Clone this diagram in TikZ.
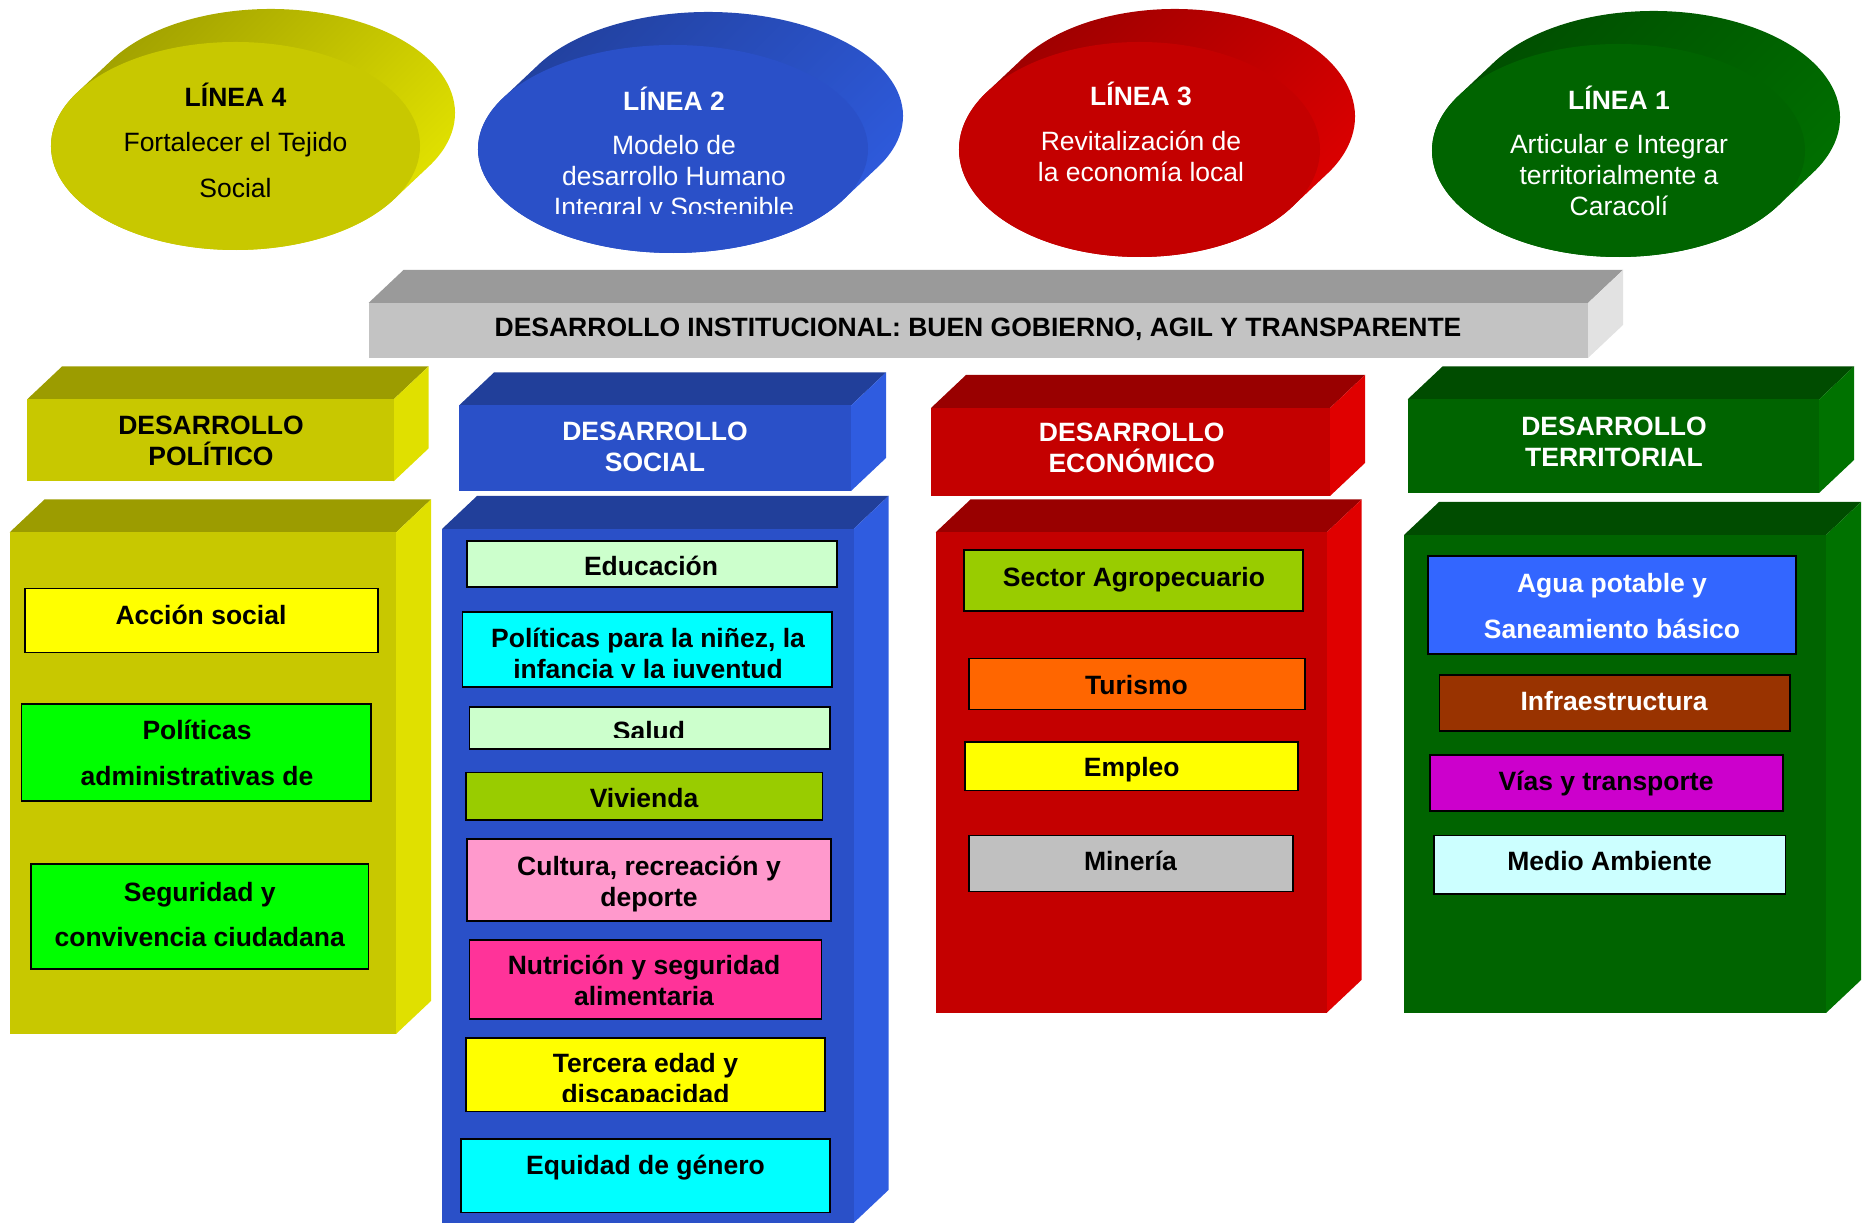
\documentclass[tikz,border=0pt]{standalone}
\usepackage{fontspec}
\setmainfont{Liberation Sans}
\usetikzlibrary{calc}

\definecolor{olfront}{HTML}{C8C800}
\definecolor{oltop}{HTML}{9C9C00}
\definecolor{olside}{HTML}{E0E000}
\definecolor{olhi}{HTML}{E6E600}
\definecolor{blfront}{HTML}{2A50C8}
\definecolor{bltop}{HTML}{213F9A}
\definecolor{blside}{HTML}{2F5CE0}
\definecolor{rdfront}{HTML}{C40000}
\definecolor{rdtop}{HTML}{990000}
\definecolor{rdside}{HTML}{E00000}
\definecolor{gnfront}{HTML}{006400}
\definecolor{gntop}{HTML}{004C00}
\definecolor{gnside}{HTML}{007200}
\definecolor{gyfront}{HTML}{C3C3C3}
\definecolor{gytop}{HTML}{9A9A9A}
\definecolor{gyside}{HTML}{E2E2E2}

% cylinder seen from the front: cx, cy, rx, ry, front, dark, light
\newcommand{\linea}[7]{%
  \shade[top color=#6, bottom color=#7, shading angle=45]
    ($(#1+35,#2+33)+(-31:#3 and #4)$) arc[start angle=-31, end angle=149, x radius=#3, y radius=#4]
    -- ($(#1,#2)+(149:#3 and #4)$) arc[start angle=149, end angle=329, x radius=#3, y radius=#4] -- cycle;
  \fill[#5] (#1,#2) ellipse[x radius=#3, y radius=#4];
}
% 3d block: left, top, right, bottom, front, top face, side face
\newcommand{\bloque}[7]{%
  \fill[#6] (#1,#2) -- (#1+35,#2+33) -- (#3+35,#2+33) -- (#3,#2) -- cycle;
  \fill[#7] (#3,#2) -- (#3+35,#2+33) -- (#3+35,#4+33) -- (#3,#4) -- cycle;
  \fill[#5] (#1,#4) rectangle (#3,#2);
}

\tikzset{
  labeltxt/.style={inner sep=0pt, align=center, font=\fontsize{26.5}{31}\selectfont\bfseries},
  ovaltxt/.style={inner sep=0pt, align=center, font=\fontsize{26.5}{31}\selectfont},
  itembox/.style={draw=black, line width=1.6pt},
}

\begin{document}
\begin{tikzpicture}[x=1pt,y=1pt]
        \useasboundingbox (0,0) rectangle (1864,1223);

        \linea{235.5}{1077}{184.5}{104}{olfront}{oltop}{olhi}
        \node[ovaltxt] (l4) at (235.5,1128) {\textbf{LÍNEA 4}};
        \node[ovaltxt] (l4txt) at (235.5,1058.4) {Fortalecer el Tejido\\[15pt]Social};
        \linea{673}{1074}{195}{104}{blfront}{bltop}{blside}
        \node[ovaltxt, text=white] (l2) at (674,1124.3) {\textbf{LÍNEA 2}};
        \begin{scope}
            \clip (470,1009) rectangle (880,1223);
            \node[ovaltxt, text=white] (l2txt) at (674,1044.4) {Modelo de\\desarrollo Humano\\Integral y Sostenible};
        \end{scope}
        \linea{1139.5}{1073.5}{180.5}{107.5}{rdfront}{rdtop}{rdside}
        \node[ovaltxt, text=white] (l3) at (1141,1129) {\textbf{LÍNEA 3}};
        \node[ovaltxt, text=white] (l3txt) at (1141,1066.8) {Revitalización de\\la economía local};
        \linea{1618.5}{1072.5}{186.5}{106.5}{gnfront}{gntop}{gnside}
        \node[ovaltxt, text=white] (l1) at (1619,1125.5) {\textbf{LÍNEA 1}};
        \node[ovaltxt, text=white] (l1txt) at (1619,1047.6) {Articular e Integrar\\territorialmente a\\Caracolí};

        \bloque{368.5}{920}{1588}{865}{gyfront}{gytop}{gyside}
        \node[labeltxt] (inst) at (978,894) {DESARROLLO INSTITUCIONAL: BUEN GOBIERNO, AGIL Y TRANSPARENTE};

        \bloque{27}{823.5}{393.5}{741.5}{olfront}{oltop}{olside}
        \node[labeltxt] (polit) at (211,782) {DESARROLLO\\POLÍTICO};
        \bloque{459}{817.5}{851}{732}{blfront}{bltop}{blside}
        \node[labeltxt, text=white] (social) at (655,776) {DESARROLLO\\SOCIAL};
        \bloque{931}{815}{1330}{727}{rdfront}{rdtop}{rdside}
        \node[labeltxt, text=white] (econ) at (1131.7,775.5) {DESARROLLO\\ECONÓMICO};
        \bloque{1407.5}{823.5}{1819}{730}{gnfront}{gntop}{gnside}
        \node[labeltxt, text=white] (terr) at (1614,781.4) {DESARROLLO\\TERRITORIAL};

        \bloque{9.5}{690.5}{396}{189}{olfront}{oltop}{olside}
        \bloque{442}{694}{853.5}{0}{blfront}{bltop}{blside}
        \bloque{935.5}{690.5}{1326.5}{210}{rdfront}{rdtop}{rdside}
        \bloque{1404}{688}{1826}{210}{gnfront}{gntop}{gnside}

        \draw[itembox, fill={rgb,255:red,255;green,255;blue,0}] (25,570.5) rectangle (378,634.5);
        \node[labeltxt] (accion) at (201,608.4) {Acción social};
        \draw[itembox, fill={rgb,255:red,0;green,255;blue,0}] (21.4,422) rectangle (371,519);
        \node[labeltxt] (admin) at (197,470) {Políticas\\[15pt]administrativas de};
        \draw[itembox, fill={rgb,255:red,0;green,255;blue,0}] (31,254) rectangle (368.5,359);
        \node[labeltxt] (segur) at (199.7,308.8) {Seguridad y\\[14pt]convivencia ciudadana};

        \draw[itembox, fill={rgb,255:red,204;green,255;blue,204}] (467,636) rectangle (837,682);
        \node[labeltxt] (educ) at (651,657) {Educación};
        \draw[itembox, fill={rgb,255:red,0;green,255;blue,255}] (462.5,536) rectangle (832,611);
        \begin{scope}
            \clip (462.5,545.5) rectangle (832,611);
            \node[labeltxt] (ninez) at (648,567) {Políticas para la niñez, la\\infancia y la juventud};
        \end{scope}
        \draw[itembox, fill={rgb,255:red,204;green,255;blue,204}] (469.6,474) rectangle (829.8,516);
        \begin{scope}
            \clip (469.6,485) rectangle (829.8,516);
            \node[labeltxt] (salud) at (649,492) {Salud};
        \end{scope}
        \draw[itembox, fill={rgb,255:red,153;green,204;blue,0}] (466,403) rectangle (822.6,450.3);
        \node[labeltxt] (vivienda) at (644,425.3) {Vivienda};
        \draw[itembox, fill={rgb,255:red,255;green,153;blue,204}] (467,302) rectangle (831,384);
        \node[labeltxt] (cultura) at (649,339.3) {Cultura, recreación y\\deporte};
        \draw[itembox, fill={rgb,255:red,255;green,51;blue,153}] (469.6,204) rectangle (821.5,283);
        \node[labeltxt] (nutri) at (644,242.2) {Nutrición y seguridad\\alimentaria};
        \draw[itembox, fill={rgb,255:red,255;green,255;blue,0}] (466,111.5) rectangle (825,185);
        \begin{scope}
            \clip (466,121) rectangle (825,185);
            \node[labeltxt] (tercera) at (645.5,142) {Tercera edad y\\discapacidad};
        \end{scope}
        \draw[itembox, fill={rgb,255:red,0;green,255;blue,255}] (461,10.4) rectangle (830,84);
        \node[labeltxt] (genero) at (645.5,55.3) {Equidad de género};

        \draw[itembox, fill={rgb,255:red,153;green,204;blue,0}] (964,612) rectangle (1303,673);
        \node[labeltxt] (agro) at (1134,643) {Sector Agropecuario};
        \draw[itembox, fill={rgb,255:red,255;green,102;blue,0}] (969,513.3) rectangle (1305,564.4);
        \node[labeltxt] (turismo) at (1136.5,538.3) {Turismo};
        \draw[itembox, fill={rgb,255:red,255;green,255;blue,0}] (965,432.5) rectangle (1298,481);
        \node[labeltxt] (empleo) at (1131.7,453) {Empleo};
        \draw[itembox, fill={rgb,255:red,192;green,192;blue,192}] (969,331.4) rectangle (1293,387.3);
        \node[labeltxt] (mineria) at (1130.5,362.3) {Minería};

        \draw[itembox, fill={rgb,255:red,51;green,102;blue,255}] (1428,569) rectangle (1796,667);
        \node[labeltxt, text=white] (agua) at (1612,617.3) {Agua potable y\\[15pt]Saneamiento básico};
        \draw[itembox, fill={rgb,255:red,153;green,51;blue,0}] (1439.6,492) rectangle (1790,548);
        \node[labeltxt, text=white] (infra) at (1614,521.6) {Infraestructura};
        \draw[itembox, fill={rgb,255:red,204;green,0;blue,204}] (1430,412) rectangle (1783,468);
        \node[labeltxt] (vias) at (1606,439) {Vías y transporte};
        \draw[itembox, fill={rgb,255:red,204;green,255;blue,255}] (1433.7,329) rectangle (1785.6,387.3);
        \node[labeltxt] (ambiente) at (1609.6,362.3) {Medio Ambiente};
\end{tikzpicture}
\end{document}
